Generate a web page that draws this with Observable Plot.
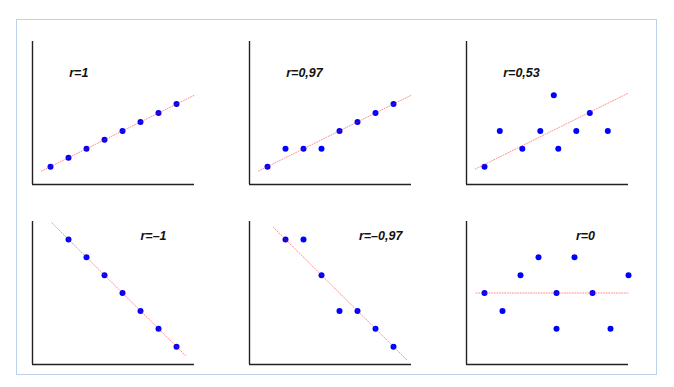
<!DOCTYPE html>
<html>
<head>
<meta charset="utf-8">
<script src="https://cdn.jsdelivr.net/npm/d3@7"></script>
<script src="https://cdn.jsdelivr.net/npm/@observablehq/plot@0.6"></script>
<style>
  html, body { margin: 0; padding: 0; background: #fff; }
  #wrap { position: relative; width: 674px; height: 387px; }
  #frame { position: absolute; left: 16px; top: 19px; width: 639px; height: 354px; border: 1.5px solid #bcd2e8; pointer-events: none; }
  #chart svg { display: block; }
</style>
</head>
<body>
<div id="wrap"><div id="chart"></div><div id="frame"></div></div>
<script>
// Panel labels (correlation coefficients)
const labels = ["r=1", "r=0,97", "r=0,53", "r=–1", "r=–0,97", "r=0"];
const panelCol = [0, 1, 2, 0, 1, 2];
const panelRow = [0, 0, 0, 1, 1, 1];

// Points per panel
const x1 = [1, 2, 3, 4, 5, 6, 7, 8];
const y1 = [1, 1.5, 2, 2.5, 3, 3.5, 4, 4.5];
const x2 = [1, 2, 3, 4, 5, 6, 7, 8];
const y2 = [1, 2, 2, 2, 3, 3.5, 4, 4.5];
const x3 = [1, 1.85, 3.1, 4.1, 4.85, 5.1, 6.1, 6.85, 7.85];
const y3 = [1, 3, 2, 3, 5, 2, 3, 4, 3];
const x4 = [2, 3, 4, 5, 6, 7, 8];
const y4 = [7, 6, 5, 4, 3, 2, 1];
const x5 = [2, 3, 4, 5, 6, 7, 8];
const y5 = [7, 7, 5, 3, 3, 2, 1];
const x6 = [1, 2, 3, 4, 5, 5, 6, 7, 8, 9];
const y6 = [4, 3, 5, 6, 4, 2, 6, 4, 2, 5];
const xs = [x1, x2, x3, x4, x5, x6];
const ys = [y1, y2, y3, y4, y5, y6];

// Fitted lines: y = intercept + slope * x, drawn from fitFrom to fitTo
const fitIntercept = [0.5, 0.5, 0.62, 9, 9, 4];
const fitSlope = [0.5, 0.5, 0.5, -1, -1, 0];
const fitFrom = [0.5, 0.5, 0.48, 1.08, 1.34, 0.53];
const fitTo = [9, 9, 8.97, 8.5, 8.74, 9.02];

// Label anchor positions (data units)
const labelX = [2.04, 2.04, 2.04, 6.0, 6.08, 6.08];
const labelY = [6.24, 6.24, 6.24, 7.2, 7.2, 7.2];

const points = [];
xs.forEach((xa, i) => xa.forEach((x, j) => points.push({col: panelCol[i], row: panelRow[i], x, y: ys[i][j]})));
const fits = [];
labels.forEach((_, i) => {
  [fitFrom[i], fitTo[i]].forEach(x => fits.push({panel: i, col: panelCol[i], row: panelRow[i], x, y: fitIntercept[i] + fitSlope[i] * x}));
});
const texts = labels.map((t, i) => ({col: panelCol[i], row: panelRow[i], x: labelX[i], y: labelY[i], t}));

const chart = Plot.plot({
  width: 674,
  height: 387,
  marginLeft: 31,
  marginRight: 44.5,
  marginTop: 40,
  marginBottom: 22,
  x: {domain: [0, 9], axis: null},
  y: {domain: [0, 8], axis: null},
  fx: {domain: [0, 1, 2], axis: null, paddingInner: 0.252, paddingOuter: 0},
  fy: {domain: [0, 1], axis: null, paddingInner: 0.204, paddingOuter: 0},
  marks: [
    Plot.ruleY([0], {stroke: "#222", strokeWidth: 1.4}),
    Plot.ruleX([0], {stroke: "#222", strokeWidth: 1.4}),
    Plot.dot(points, {x: "x", y: "y", fx: "col", fy: "row", r: 3, fill: "#0000ff", stroke: "none"}),
    Plot.line(fits, {x: "x", y: "y", z: "panel", fx: "col", fy: "row", stroke: "#ff2020", strokeOpacity: 0.5, strokeWidth: 1, strokeDasharray: "1,1.6"}),
    Plot.text(texts, {x: "x", y: "y", fx: "col", fy: "row", text: "t", textAnchor: "start", fontSize: 12.5, fontWeight: "bold", fontStyle: "italic", fontFamily: "Liberation Sans, Arial, sans-serif", fill: "#111"})
  ]
});
document.getElementById("chart").appendChild(chart);
</script>
</body>
</html>
